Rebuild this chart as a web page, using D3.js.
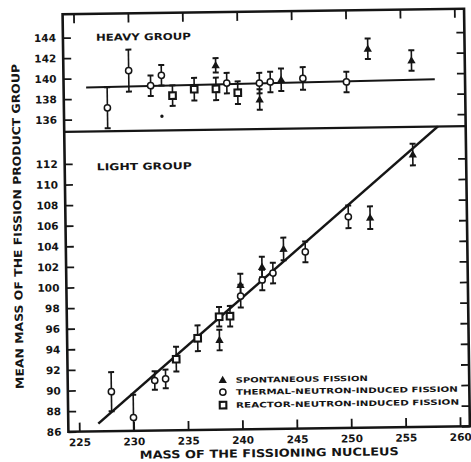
<!DOCTYPE html>
<html><head><meta charset="utf-8">
<script src="https://cdn.jsdelivr.net/npm/d3@7/dist/d3.min.js"></script>
<style>body{margin:0;background:#fff}svg{display:block}</style>
</head><body>
<svg id="chart" width="471" height="462"></svg>
<script>
// ---- data ----
const massTicks  = [225,230,235,240,245,250,255,260];
const heavyTicks = [136,138,140,142,144];
const lightTicks = [86,88,90,92,94,96,98,100,102,104,106,108,110,112];

// kinds: S = spontaneous fission, T = thermal-neutron-induced, R = reactor-neutron-induced, D = stray dot
const heavyMass = [228,230,232,233,234,236,238,238,239,240,242,242,243,244,246,250,252,256,233];
const heavyMean = [137.1,140.7,139.2,140.2,138.2,138.8,141.1,138.8,139.35,138.4,139.3,137.7,139.4,139.6,139.7,139.3,142.5,141.3,136.2];
const heavyErr  = [2.0,2.05,1.0,1.0,1.0,1.1,0.7,1.1,1.0,1.1,1.0,1.0,1.0,1.1,1.1,1.0,1.0,1.0,0];
const heavyKind = ["T","T","T","T","R","R","S","R","T","R","T","S","T","S","T","T","S","S","D"];

const lightMass = [228,230,232,233,234,236,238,238,239,240,240,242,242,243,244,246,250,252,256];
const lightMean = [89.83,87.3,90.86,91.0,92.9,94.9,96.96,94.7,97.0,98.93,100.0,100.47,101.73,101.13,103.45,103.14,106.49,106.37,112.44];
const lightErr  = [1.9,2.2,0.9,0.9,1.2,1.25,0.95,1.0,1.0,1.1,1.1,1.0,1.0,1.0,1.1,1.0,1.1,1.1,1.05];
const lightKind = ["T","T","T","T","R","R","R","S","R","T","S","T","S","T","S","T","T","S","S"];

const heavyLineMass = [226.07,258.12];
const heavyLineMean = [139.1,139.43];
const lightLineMass = [226.76,258.35];
const lightLineMean = [86.75,115.14];

const legendLabels = ["SPONTANEOUS FISSION","THERMAL-NEUTRON-INDUCED FISSION","REACTOR-NEUTRON-INDUCED FISSION"];
const legendKinds  = ["S","T","R"];

// ---- drawing ----
const ink = "#151515";
const font = "'DejaVu Sans', sans-serif";
const svg = d3.select("#chart");
const g = svg.append("g").attr("transform","rotate(-0.8,266,222)");

const x  = d3.scaleLinear().domain([224,260.9]).range([65.5,467]);
const yH = d3.scaleLinear().domain([134.82,146.28]).range([129,11.5]);
const yL = d3.scaleLinear().domain([86,115.12]).range([429,129]);

function styleAxis(sel){
  sel.select(".domain").remove();
  sel.selectAll(".tick line").attr("stroke",ink).attr("stroke-width",1.8);
  sel.selectAll(".tick text").attr("fill",ink).attr("font-family",font)
     .attr("font-weight","bold").attr("font-size","10.5px");
}

// axes
g.append("g").attr("transform","translate(65.5,0)")
  .call(d3.axisLeft(yH).tickValues(heavyTicks).tickSize(-8).tickPadding(7)).call(styleAxis);
g.append("g").attr("transform","translate(65.5,0)")
  .call(d3.axisLeft(yL).tickValues(lightTicks).tickSize(-8).tickPadding(7)).call(styleAxis);
g.append("g").attr("transform","translate(467,0)")
  .call(d3.axisRight(yH).tickValues(heavyTicks).tickSize(-8).tickFormat("")).call(styleAxis);
g.append("g").attr("transform","translate(467,0)")
  .call(d3.axisRight(yL).tickValues(lightTicks).tickSize(-8).tickFormat("")).call(styleAxis);
g.append("g").attr("transform","translate(0,429)")
  .call(d3.axisBottom(x).tickValues(massTicks).tickSize(-9).tickPadding(7)).call(styleAxis);
g.append("g").attr("transform","translate(0,11.5)")
  .call(d3.axisTop(x).tickValues(massTicks).tickSize(-9).tickFormat("")).call(styleAxis);

// frame and divider
g.append("rect").attr("x",x.range()[0]).attr("y",11.5)
  .attr("width",x.range()[1]-x.range()[0]).attr("height",429-11.5)
  .attr("fill","none").attr("stroke",ink).attr("stroke-width",2.6);
g.append("line").attr("x1",x.range()[0]).attr("x2",x.range()[1])
  .attr("y1",yH.range()[0]).attr("y2",yH.range()[0])
  .attr("stroke",ink).attr("stroke-width",2.2);

// fit lines
g.append("path").datum(d3.zip(heavyLineMass,heavyLineMean))
  .attr("d",d3.line().x(d=>x(d[0])).y(d=>yH(d[1])))
  .attr("fill","none").attr("stroke",ink).attr("stroke-width",2);
g.append("path").datum(d3.zip(lightLineMass,lightLineMean))
  .attr("d",d3.line().x(d=>x(d[0])).y(d=>yL(d[1])))
  .attr("fill","none").attr("stroke",ink).attr("stroke-width",2.6);

function drawMarker(sel, kind, cx, cy){
  if(kind==="S"){
    sel.append("path").attr("d",d3.symbol(d3.symbolTriangle,30)())
      .attr("transform",`translate(${cx},${cy+0.5})`).attr("fill",ink);
  } else if(kind==="T"){
    sel.append("circle").attr("cx",cx).attr("cy",cy).attr("r",3.1)
      .attr("fill","#fff").attr("stroke",ink).attr("stroke-width",1.5);
  } else if(kind==="R"){
    sel.append("rect").attr("x",cx-3.3).attr("y",cy-3.3).attr("width",6.6).attr("height",6.6)
      .attr("fill","#fff").attr("stroke",ink).attr("stroke-width",2.1);
  } else {
    sel.append("circle").attr("cx",cx).attr("cy",cy).attr("r",1.7).attr("fill",ink);
  }
}

function drawGroup(mass, mean, err, kind, y){
  const eb = g.append("g");
  const mk = g.append("g");
  mass.forEach((m,i)=>{
    const cx = x(m);
    if(err[i]>0){
      const y1 = y(mean[i]+err[i]), y2 = Math.min(y(mean[i]-err[i]), y.range()[0]);
      eb.append("line").attr("x1",cx).attr("x2",cx).attr("y1",y1).attr("y2",y2)
        .attr("stroke",ink).attr("stroke-width",1.6);
      eb.append("line").attr("x1",cx-3).attr("x2",cx+3).attr("y1",y1).attr("y2",y1)
        .attr("stroke",ink).attr("stroke-width",2);
      if(y(mean[i]-err[i]) < y.range()[0])
        eb.append("line").attr("x1",cx-3).attr("x2",cx+3).attr("y1",y2).attr("y2",y2)
          .attr("stroke",ink).attr("stroke-width",2);
    }
    drawMarker(mk, kind[i], cx, y(mean[i]));
  });
}
drawGroup(heavyMass, heavyMean, heavyErr, heavyKind, yH);
drawGroup(lightMass, lightMean, lightErr, lightKind, yL);

// group titles
g.append("text").attr("x",98.5).attr("y",38.5).text("HEAVY GROUP")
  .attr("font-family",font).attr("font-weight","bold").attr("font-size","9.5px")
  .attr("fill",ink).attr("textLength",95).attr("lengthAdjust","spacingAndGlyphs");
g.append("text").attr("x",97.5).attr("y",168).text("LIGHT GROUP")
  .attr("font-family",font).attr("font-weight","bold").attr("font-size","9.5px")
  .attr("fill",ink).attr("textLength",95).attr("lengthAdjust","spacingAndGlyphs");

// legend
const legY = [379.5,391.5,404.5];
const legW = [132,222,223];
const lg = g.append("g");
legendLabels.forEach((t,i)=>{
  drawMarker(lg, legendKinds[i], 220.5, legY[i]);
  lg.append("text").attr("x",233.5).attr("y",legY[i]+2.8).text(t)
    .attr("font-family",font).attr("font-weight","bold").attr("font-size","7.5px")
    .attr("fill",ink).attr("textLength",legW[i]).attr("lengthAdjust","spacingAndGlyphs");
});

// axis titles
g.append("text").attr("x",266).attr("y",457).attr("text-anchor","middle")
  .text("MASS OF THE FISSIONING NUCLEUS")
  .attr("font-family",font).attr("font-weight","bold").attr("font-size","11px")
  .attr("fill",ink).attr("textLength",259).attr("lengthAdjust","spacingAndGlyphs");
g.append("text").attr("transform","translate(21.5,223) rotate(-90)").attr("text-anchor","middle")
  .text("MEAN MASS OF THE FISSION PRODUCT GROUP")
  .attr("font-family",font).attr("font-weight","bold").attr("font-size","11px")
  .attr("fill",ink).attr("textLength",325).attr("lengthAdjust","spacingAndGlyphs");
</script>
</body></html>
